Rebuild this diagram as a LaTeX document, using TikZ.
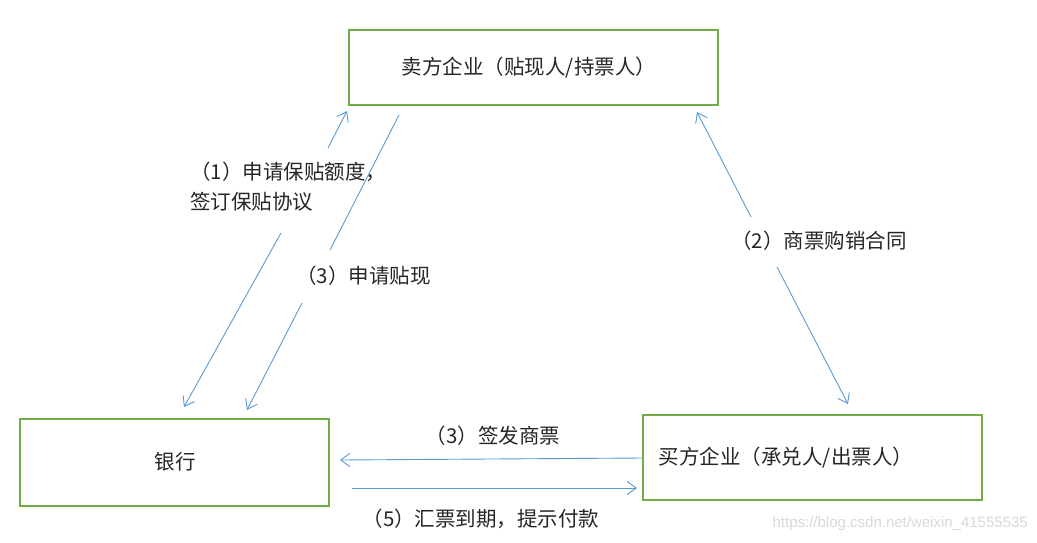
\documentclass[tikz,border=0pt]{standalone}
\usepackage{fontspec}
\newfontfamily\cjk{Noto Sans CJK SC}
\setsansfont{Liberation Sans}
\usetikzlibrary{arrows.meta}
\definecolor{boxgreen}{HTML}{70AD47}
\definecolor{arrblue}{HTML}{5B9BD5}
\begin{document}
\begin{tikzpicture}[x=1pt,y=-1pt,
  box/.style={draw=boxgreen,line width=2pt,inner sep=0pt},
  lbl/.style={font=\cjk\fontsize{20.5}{30}\selectfont,inner sep=0pt,text=black!85},
  conn/.style={draw=arrblue,line width=0.9pt},
  arr/.style={conn,-{Straight Barb[length=9pt,width=13pt,line width=0.9pt]}}]
\useasboundingbox (0,0) rectangle (1037,542);
\fill[white] (0,0) rectangle (1037,542);
% boxes
\node[box,minimum width=369pt,minimum height=75pt] (seller) at (533.5,67.5) {};
\node[box,minimum width=309pt,minimum height=87pt] (bank) at (174.5,462.5) {};
\node[box,minimum width=339pt,minimum height=85pt] (buyer) at (812.5,457.5) {};
\node[lbl] (sellerT) at (529,68) {卖方企业（贴现人/持票人）};
\node[lbl] (bankT) at (175,462) {银行};
\node[lbl] (buyerT) at (786,458) {买方企业（承兑人/出票人）};
% labels
\node[lbl,anchor=north west,align=left] (l1) at (190,162) {（1）申请保贴额度，\\签订保贴协议};
\node[lbl,anchor=west] (l3a) at (296,276) {（3）申请贴现};
\node[lbl] (l2) at (819,241) {（2）商票购销合同};
\node[lbl] (l3b) at (493,436) {（3）签发商票};
\node[lbl] (l5) at (481,519) {（5）汇票到期，提示付款};
% connector end points
\coordinate (a1s) at (328,148); \coordinate (a1e) at (347,111);
\coordinate (b1s) at (281,233); \coordinate (b1e) at (184,407);
\coordinate (a3s) at (399,115); \coordinate (a3e) at (330,250);
\coordinate (b3s) at (302,303); \coordinate (b3e) at (247,410);
\coordinate (a2s) at (751,217); \coordinate (a2e) at (697,112);
\coordinate (b2s) at (777,267); \coordinate (b2e) at (848,404);
\coordinate (c3e) at (340,460);
\coordinate (c5s) at (352,488); \coordinate (c5e) at (637,488);
% connectors
\draw[arr] (a1s) -- (a1e);
\draw[arr] (b1s) -- (b1e);
\draw[conn] (a3s) -- (a3e);
\draw[arr] (b3s) -- (b3e);
\draw[arr] (a2s) -- (a2e);
\draw[arr] (b2s) -- (b2e);
\draw[arr] (buyer.west |- 0,458) -- (c3e);
\draw[arr] (c5s) -- (c5e);
% watermark
\node[font=\sffamily\fontsize{15}{18}\selectfont,text=black!15,anchor=east,inner sep=0pt] (wm) at (1028,524) {https://blog.csdn.net/weixin\_41555535};
\end{tikzpicture}
\end{document}
